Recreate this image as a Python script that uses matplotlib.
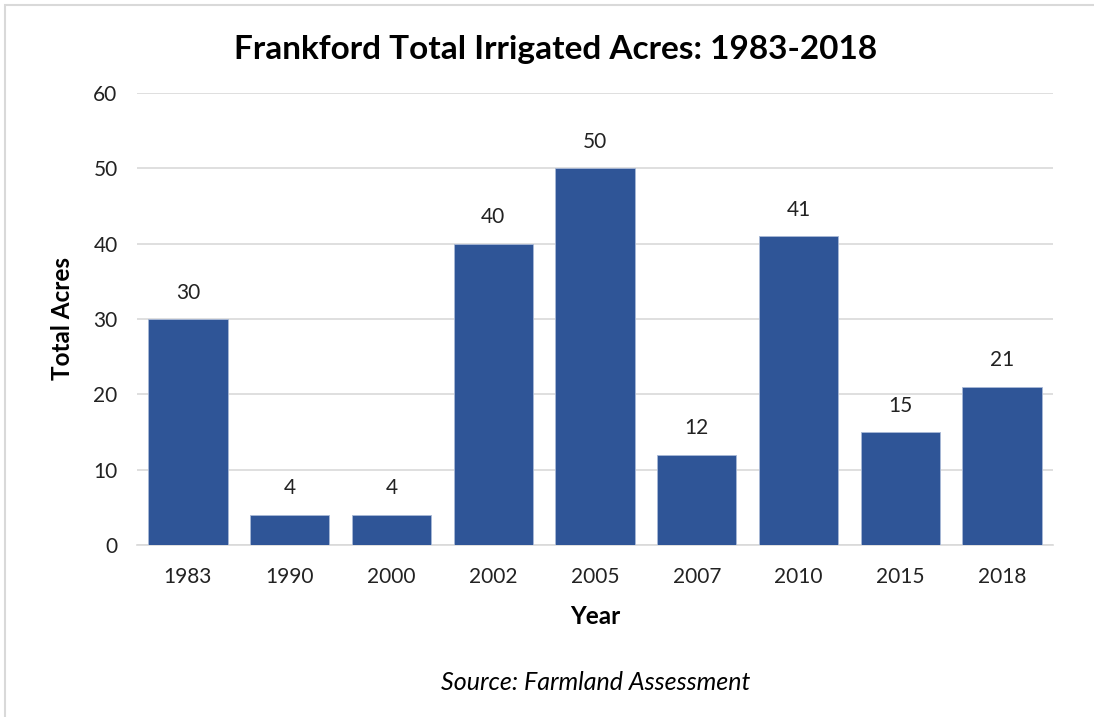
import matplotlib
matplotlib.use("Agg")
import matplotlib.pyplot as plt
from matplotlib.patches import Rectangle

years = ["1983", "1990", "2000", "2002", "2005", "2007", "2010", "2015", "2018"]
acres = [30, 4, 4, 40, 50, 12, 41, 15, 21]
y_ticks = [0, 10, 20, 30, 40, 50, 60]

BAR_COLOR = "#2F5597"
GRID_COLOR = "#D9D9D9"
FONT = ["Lato", "DejaVu Sans"]

plt.rcParams["font.family"] = FONT

W, H = 1094, 717
fig = plt.figure(figsize=(W / 100, H / 100), dpi=100)

# outer chart border (only left/top edges are visible in the crop)
fig.patches.append(Rectangle((5 / W, -0.1), 1.2, 1 - 5 / H + 0.1,
                             transform=fig.transFigure, fill=False,
                             edgecolor="#D9D9D9", linewidth=1.5))

ax = fig.add_axes([137 / W, 1 - 545 / H, (1053 - 137) / W, (545 - 93) / H])

x = range(len(years))
bars = ax.bar(x, acres, width=0.78, color=BAR_COLOR, edgecolor="#A9B9D6",
              linewidth=0.6, zorder=3)
for b, v in zip(bars, acres):
    ax.annotate(str(v), (b.get_x() + b.get_width() / 2, v),
                xytext=(0, 19), textcoords="offset points",
                ha="center", va="center", fontsize=15, color="#222222")

ax.set_xlim(-0.5, len(years) - 0.5)
ax.set_ylim(0, 60)
ax.set_yticks(y_ticks)
ax.set_xticks(list(x))
ax.set_xticklabels(years)
ax.tick_params(axis="both", length=0, labelsize=15, colors="#222222")
ax.tick_params(axis="y", pad=14)
ax.tick_params(axis="x", pad=16)
ax.grid(axis="y", color=GRID_COLOR, linewidth=1.2, zorder=0)
for s in ["top", "right", "left"]:
    ax.spines[s].set_visible(False)
ax.spines["bottom"].set_color(GRID_COLOR)
ax.spines["bottom"].set_linewidth(1.2)

ax.set_xlabel("Year", fontsize=17.5, fontweight="bold")
ax.set_ylabel("Total Acres", fontsize=17.5, fontweight="bold")
ax.xaxis.set_label_coords(0.5, 1 - (617 - 93) / (545 - 93))
ax.xaxis.label.set_va("center")
ax.yaxis.set_label_coords(-(137 - 62) / (1053 - 137), 0.5)
ax.yaxis.label.set_va("center")

fig.text(556 / W, 1 - 50 / H, "Frankford Total Irrigated Acres: 1983-2018",
         ha="center", va="center", fontsize=24, fontweight="bold")
fig.text(596 / W, 1 - 683 / H, "Source: Farmland Assessment",
         ha="center", va="center", fontsize=18, style="italic")

fig.savefig("out.png", dpi=100)
